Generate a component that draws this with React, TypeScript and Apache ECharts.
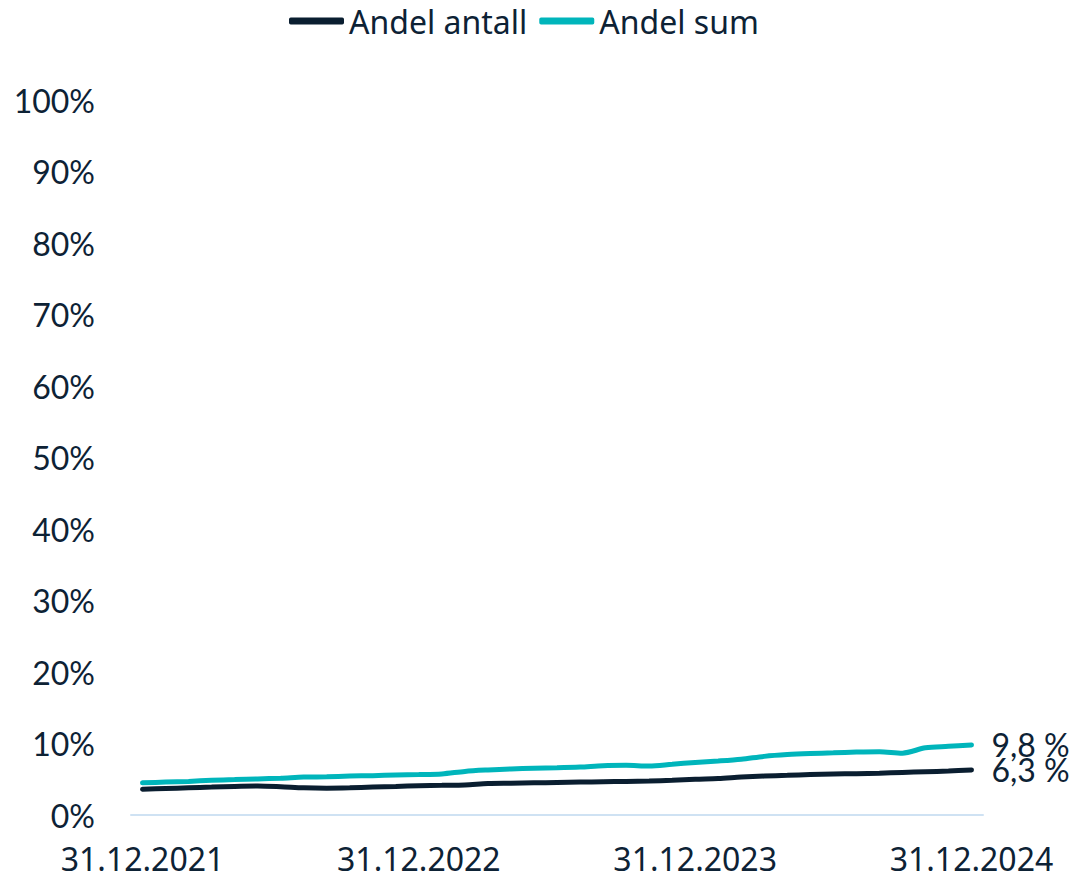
import React, { useEffect, useRef } from "react";
import * as echarts from "echarts";

const categories = [
  "31.12.2021", "31.01.2022", "28.02.2022", "31.03.2022", "30.04.2022", "31.05.2022",
  "30.06.2022", "31.07.2022", "31.08.2022", "30.09.2022", "31.10.2022", "30.11.2022",
  "31.12.2022", "31.01.2023", "28.02.2023", "31.03.2023", "30.04.2023", "31.05.2023",
  "30.06.2023", "31.07.2023", "31.08.2023", "30.09.2023", "31.10.2023", "30.11.2023",
  "31.12.2023", "31.01.2024", "29.02.2024", "31.03.2024", "30.04.2024", "31.05.2024",
  "30.06.2024", "31.07.2024", "31.08.2024", "30.09.2024", "31.10.2024", "30.11.2024",
  "31.12.2024",
];

const andelAntall = [
  3.6, 3.7, 3.8, 3.9, 4.0, 4.05, 3.95, 3.8, 3.75, 3.8, 3.9, 4.0,
  4.1, 4.15, 4.2, 4.4, 4.45, 4.5, 4.55, 4.6, 4.65, 4.7, 4.75, 4.85,
  5.0, 5.1, 5.3, 5.45, 5.55, 5.65, 5.73, 5.78, 5.85, 5.95, 6.05, 6.15,
  6.3,
];

const andelSum = [
  4.5, 4.6, 4.7, 4.85, 4.95, 5.05, 5.15, 5.3, 5.35, 5.45, 5.5, 5.6,
  5.65, 5.75, 6.1, 6.3, 6.45, 6.55, 6.6, 6.7, 6.9, 6.95, 6.85, 7.1,
  7.35, 7.55, 7.8, 8.2, 8.45, 8.6, 8.7, 8.8, 8.85, 8.65, 9.4, 9.6,
  9.8,
];

const seriesNames = ["Andel antall", "Andel sum"];
const DARK = "#0a1e30";
const TEAL = "#00b5bb";
const TEXT = "#0d2235";

export default function App() {
  const ref = useRef<HTMLDivElement>(null);

  useEffect(() => {
    if (!ref.current) return;
    const chart = echarts.init(ref.current, undefined, { renderer: "svg" });
    const endLabel = {
      show: true,
      fontFamily: "Lato",
      fontSize: 32,
      color: TEXT,
      distance: 20,
      formatter: (p: any) => `${String(p.value).replace(".", ",")} %`,
    };
    chart.setOption({
      animation: false,
      backgroundColor: "#ffffff",
      legend: {
        top: 0,
        left: 284,
        icon: "roundRect",
        itemWidth: 55,
        itemHeight: 7,
        itemGap: 12,
        textStyle: { fontFamily: "Noto Sans", fontSize: 32, color: TEXT },
        data: seriesNames,
      },
      grid: { left: 131, right: 98, top: 100, bottom: 64, containLabel: false },
      xAxis: {
        type: "category",
        data: categories,
        boundaryGap: true,
        axisLine: { show: true, lineStyle: { color: "#cfe2f3", width: 2 } },
        axisTick: { show: false },
        axisLabel: {
          interval: 11,
          fontFamily: "Noto Sans",
          fontSize: 32,
          color: TEXT,
          margin: 27,
        },
        splitLine: { show: false },
      },
      yAxis: {
        type: "value",
        min: 0,
        max: 100,
        interval: 10,
        axisLine: { show: false },
        axisTick: { show: false },
        splitLine: { show: false },
        axisLabel: {
          formatter: "{value}%",
          fontFamily: "Lato",
          fontSize: 32,
          color: TEXT,
          margin: 36,
        },
      },
      series: [
        {
          name: seriesNames[0],
          type: "line",
          data: andelAntall,
          showSymbol: false,
          symbol: "none",
          smooth: 0.3,
          lineStyle: { color: DARK, width: 5, cap: "round" },
          itemStyle: { color: DARK },
          endLabel,
        },
        {
          name: seriesNames[1],
          type: "line",
          data: andelSum,
          showSymbol: false,
          symbol: "none",
          smooth: 0.3,
          lineStyle: { color: TEAL, width: 5, cap: "round" },
          itemStyle: { color: TEAL },
          endLabel,
        },
      ],
    });
    return () => chart.dispose();
  }, []);

  return (
    <div
      ref={ref}
      style={{ position: "fixed", left: 0, top: 0, width: 1081, height: 879 }}
    />
  );
}
